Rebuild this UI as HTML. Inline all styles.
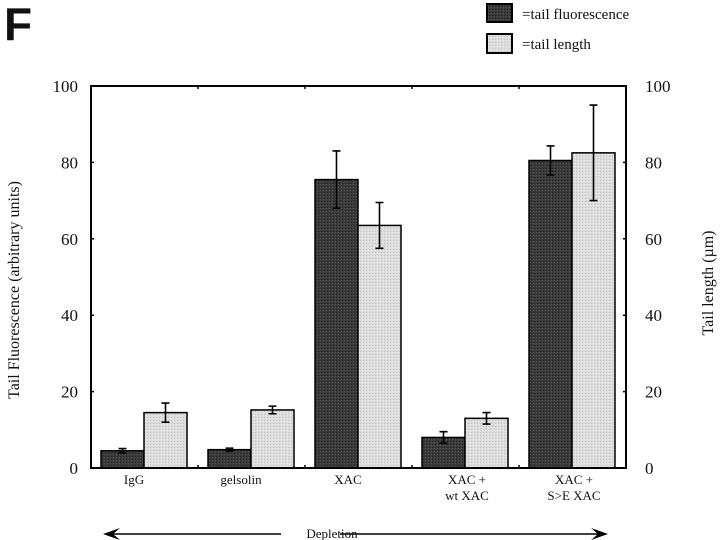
<!DOCTYPE html>
<html><head><meta charset="utf-8"><style>
html,body{margin:0;padding:0;background:#fff;}
svg{display:block;}
text{font-family:"Liberation Serif",serif;fill:#111;}
</style></head><body>
<svg id="chart" width="720" height="540" viewBox="0 0 720 540" xmlns="http://www.w3.org/2000/svg">
<defs>
<pattern id="dk" width="3" height="3" patternUnits="userSpaceOnUse"><rect width="3" height="3" fill="#3a3a3a"/><rect width="1" height="1" fill="#222"/><rect x="2" y="1" width="1" height="1" fill="#555"/></pattern>
<pattern id="lt" width="3" height="3" patternUnits="userSpaceOnUse"><rect width="3" height="3" fill="#dcdcdc"/><rect width="1" height="1" fill="#c4c4c4"/><rect x="2" y="1" width="1" height="1" fill="#ececec"/></pattern>
</defs>
<text x="4" y="40" font-family="Liberation Sans" font-weight="bold" font-size="46" style="font-family:'Liberation Sans',sans-serif">F</text>
<g>
<rect x="487" y="4" width="25" height="18" fill="url(#dk)" stroke="#000" stroke-width="2"/>
<text x="522" y="19" font-size="15">=tail fluorescence</text>
<rect x="487" y="34" width="25" height="19" fill="url(#lt)" stroke="#000" stroke-width="2"/>
<text x="522" y="49" font-size="15">=tail length</text>
</g>
<g id="plot"></g>
<text transform="translate(19,290) rotate(-90)" text-anchor="middle" font-size="16">Tail Fluorescence (arbitrary units)</text>
<text transform="translate(713,283) rotate(-90)" text-anchor="middle" font-size="16">Tail length (µm)</text>
<g>
<line x1="106" y1="534" x2="281" y2="534" stroke="#000" stroke-width="1.5"/>
<path d="M103,534 L120,528 L113,534 L120,540 Z" fill="#000"/>
<line x1="340" y1="534" x2="604" y2="534" stroke="#000" stroke-width="1.5"/>
<path d="M608,534 L591,528 L598,534 L591,540 Z" fill="#000"/>
<text x="332" y="538" text-anchor="middle" font-size="13">Depletion</text>
</g>
</svg>
<script>
const categories = [["IgG"],["gelsolin"],["XAC"],["XAC +","wt XAC"],["XAC +","S>E XAC"]];
const fluorescence = [4.5, 4.8, 75.5, 8, 80.5];
const fluorescenceErr = [0.6, 0.4, 7.5, 1.5, 3.8];
const tailLength = [14.5, 15.2, 63.5, 13, 82.5];
const tailLengthErr = [2.5, 1.0, 6.0, 1.5, 12.5];
const yTicks = [0, 20, 40, 60, 80, 100];

const NS = "http://www.w3.org/2000/svg";
const g = document.getElementById("plot");
const X0 = 91, X1 = 626, Y0 = 468, Y1 = 86, YMAX = 100;
const gw = (X1 - X0) / categories.length;
const y = v => Y0 - (v / YMAX) * (Y0 - Y1);
const gx = i => X0 + i * gw;
function mk(tag, attrs) { const e = document.createElementNS(NS, tag); for (const k in attrs) e.setAttribute(k, attrs[k]); g.appendChild(e); return e; }

function bar(i, v, err, k, fill, name) {
  const bw = 43, x = gx(i) + 10 + k * bw;
  const r = mk("rect", {x: x, y: y(v), width: bw, height: Y0 - y(v), fill: fill, stroke: "#000", "stroke-width": 1.5});
  
  
  const cx = x + bw / 2;
  const e = mk("path", {d: `M${cx},${y(v+err)}V${y(v-err)}M${cx-4},${y(v+err)}H${cx+4}M${cx-4},${y(v-err)}H${cx+4}`, stroke: "#000", "stroke-width": 1.6, fill: "none"});
  
  
}
categories.forEach((c, i) => {
  bar(i, fluorescence[i], fluorescenceErr[i], 0, "url(#dk)", "bar-fluorescence");
  bar(i, tailLength[i], tailLengthErr[i], 1, "url(#lt)", "bar-length");
  const cx = gx(i) + 10 + 43;
  c.forEach((line, j) => {
    const t = mk("text", {x: cx - (c.length > 1 ? -2 : 10), y: 484 + j * 16, "text-anchor": "middle", "font-size": 13});
    t.textContent = line;
    
    
  });
  if (i > 0) {
    const d = mk("path", {d: `M${gx(i)},${Y0}v-3M${gx(i)},${Y1}v3`, stroke: "#000", "stroke-width": 1.5});
    
    
  }
});
const frame = mk("rect", {x: X0, y: Y1, width: X1 - X0, height: Y0 - Y1, fill: "none", stroke: "#000", "stroke-width": 2});


yTicks.forEach(v => {
  const tl = mk("text", {x: 78, y: y(v) + 6, "text-anchor": "end", "font-size": 17});
  tl.textContent = v;
  
  
  const tr = mk("text", {x: 645, y: y(v) + 6, "text-anchor": "start", "font-size": 17});
  tr.textContent = v;
  
  
  const tk = mk("path", {d: `M${X0},${y(v)}h3M${X1},${y(v)}h-3`, stroke: "#000", "stroke-width": 1.5});
  
  
});
</script>
</body></html>
